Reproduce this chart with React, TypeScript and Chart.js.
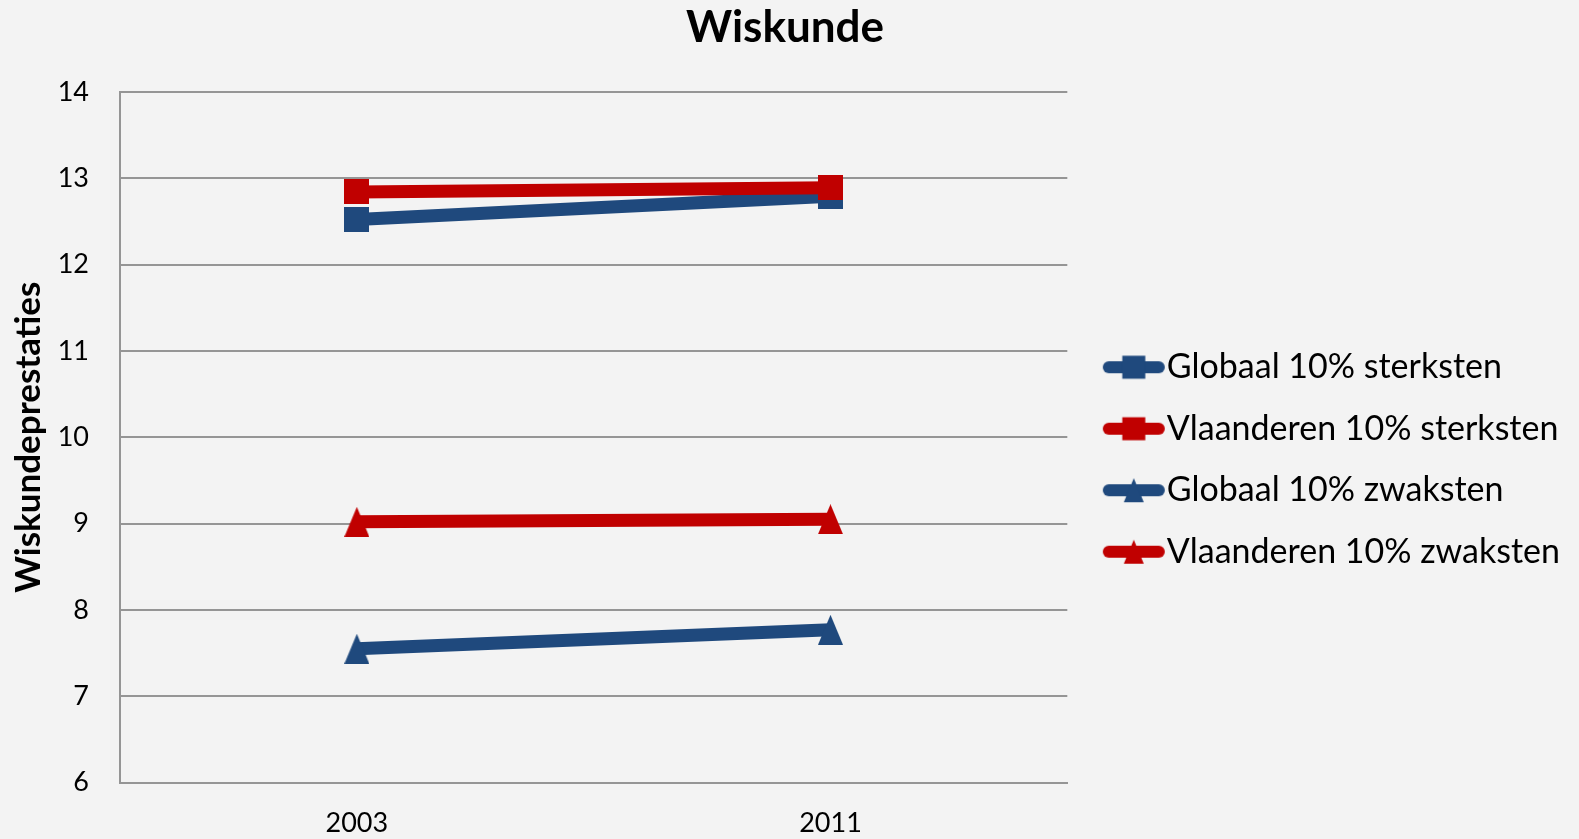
import React, { useEffect, useRef } from 'react';
import { Chart, registerables } from 'chart.js';

Chart.register(...registerables);

// ---- data ----
const years: string[] = ['2003', '2011'];
const globaalSterksten: number[] = [12.52, 12.79];
const vlaanderenSterksten: number[] = [12.84, 12.89];
const globaalZwaksten: number[] = [7.55, 7.77];
const vlaanderenZwaksten: number[] = [9.02, 9.05];
const seriesNames: string[] = [
  'Globaal 10% sterksten',
  'Vlaanderen 10% sterksten',
  'Globaal 10% zwaksten',
  'Vlaanderen 10% zwaksten',
];
const chartTitle = 'Wiskunde';
const yTitle = 'Wiskundeprestaties';
const yMin = 6;
const yMax = 14;
const yStep = 1;

const BLUE = '#1f497d';
const RED = '#c00000';
const GRID = '#959595';
const BG = '#f3f3f3';
const FONT = 'Lato, Carlito, Calibri, "Open Sans", sans-serif';

function makeCanvas(w: number, h: number) {
  const c = document.createElement('canvas');
  c.width = w;
  c.height = h;
  return c;
}

function drawMarker(ctx: CanvasRenderingContext2D, kind: string, cx: number, cy: number, size: number, color: string) {
  ctx.fillStyle = color;
  if (kind === 'square') {
    ctx.fillRect(cx - size / 2, cy - size / 2, size, size);
  } else {
    const h = size * 1.2;
    ctx.beginPath();
    ctx.moveTo(cx, cy - h / 2);
    ctx.lineTo(cx + size / 2, cy + h / 2);
    ctx.lineTo(cx - size / 2, cy + h / 2);
    ctx.closePath();
    ctx.fill();
  }
}

function markerImage(kind: string, color: string, size: number) {
  const h = kind === 'square' ? size : Math.ceil(size * 1.2);
  const c = makeCanvas(size, h);
  const ctx = c.getContext('2d')!;
  drawMarker(ctx, kind, size / 2, h / 2, size, color);
  return c;
}

function legendImage(kind: string, color: string, totalW: number, lineLen: number) {
  const h = 28;
  const c = makeCanvas(totalW, h);
  const ctx = c.getContext('2d')!;
  const right = totalW - 2;
  const x1 = right - lineLen + 6;
  const x2 = right - 6;
  ctx.strokeStyle = color;
  ctx.lineWidth = 12;
  ctx.lineCap = 'round';
  ctx.beginPath();
  ctx.moveTo(x1, h / 2);
  ctx.lineTo(x2, h / 2);
  ctx.stroke();
  drawMarker(ctx, kind, right - lineLen / 2, h / 2, kind === 'square' ? 23 : 20, color);
  return c;
}

// Let the legend take its natural width (Chart.js caps side boxes at a quarter of the width)
const legendWidthPlugin = {
  id: 'legendWidth',
  beforeLayout(chart: any) {
    const lg = chart.legend;
    if (lg && !lg.__wide) {
      const orig = lg.update.bind(lg);
      lg.update = (maxW: number, maxH: number, margins: any) => orig(Math.max(maxW, 800), maxH, margins);
      lg.__wide = true;
    }
  },
};

export default function App() {
  const ref = useRef<HTMLCanvasElement | null>(null);

  useEffect(() => {
    document.body.style.margin = '0';
    document.body.style.background = BG;
    if (!ref.current) return;

    const kinds = ['square', 'square', 'triangle', 'triangle'];
    const colors = [BLUE, RED, BLUE, RED];
    const values = [globaalSterksten, vlaanderenSterksten, globaalZwaksten, vlaanderenZwaksten];
    const legendFont = 34;
    const boxW = 55;
    const imgW = boxW + legendFont;
    const legendImgs = kinds.map((k, i) => legendImage(k, colors[i], imgW, 62));

    const datasets = values.map((v, i) => ({
      label: seriesNames[i],
      data: v,
      borderColor: colors[i],
      backgroundColor: colors[i],
      borderWidth: 13,
      pointBorderWidth: 0,
      pointStyle: markerImage(kinds[i], colors[i], 25) as any,
      pointRadius: 13,
      pointHoverRadius: 13,
      tension: 0,
      order: colors[i] === RED ? 0 : 1,
    }));

    const chart = new Chart(ref.current, {
      type: 'line',
      data: { labels: years, datasets },
      plugins: [legendWidthPlugin],
      options: {
        animation: false,
        responsive: true,
        maintainAspectRatio: false,
        layout: { autoPadding: false, padding: { left: 0, right: 9, top: 0, bottom: 0 } },
        plugins: {
          title: {
            display: true,
            text: chartTitle,
            color: '#000',
            font: { family: FONT, size: 44, weight: 'bold' },
            padding: { top: 1, bottom: 38 },
          },
          legend: {
            display: true,
            position: 'right',
            align: 'center',
            title: { display: true, text: ' ', font: { size: 10 }, padding: 34 },
            labels: {
              color: '#000',
              font: { family: FONT, size: legendFont },
              padding: 27.5,
              usePointStyle: true,
              pointStyleWidth: boxW,
              generateLabels: () =>
                seriesNames.map((name, i) => ({
                  text: name,
                  fontColor: '#000',
                  pointStyle: legendImgs[i] as any,
                  fillStyle: colors[i],
                  strokeStyle: colors[i],
                  lineWidth: 0,
                  hidden: false,
                  datasetIndex: i,
                })),
            },
          },
          tooltip: { enabled: false },
        },
        scales: {
          x: {
            offset: true,
            grid: { display: false, drawTicks: false },
            border: { display: true, color: GRID, width: 2 },
            ticks: { color: '#000', font: { family: FONT, size: 27 }, padding: 24 },
            afterFit: (scale: any) => {
              scale.height = 56.4;
            },
          },
          y: {
            min: yMin,
            max: yMax,
            ticks: { stepSize: yStep, color: '#000', font: { family: FONT, size: 27 }, padding: 31 },
            grid: { color: GRID, lineWidth: 2, drawTicks: false },
            border: { display: true, color: GRID, width: 2 },
            title: {
              display: true,
              text: yTitle,
              color: '#000',
              font: { family: FONT, size: 35, weight: 'bold' },
              padding: { top: 8, bottom: 2 },
            },
            afterFit: (scale: any) => {
              scale.width = 120;
            },
          },
        },
      },
    });
    return () => chart.destroy();
  }, []);

  return (
    <div style={{ width: '1579px', height: '839px', position: 'relative', background: BG }}>
      <canvas ref={ref} />
    </div>
  );
}
